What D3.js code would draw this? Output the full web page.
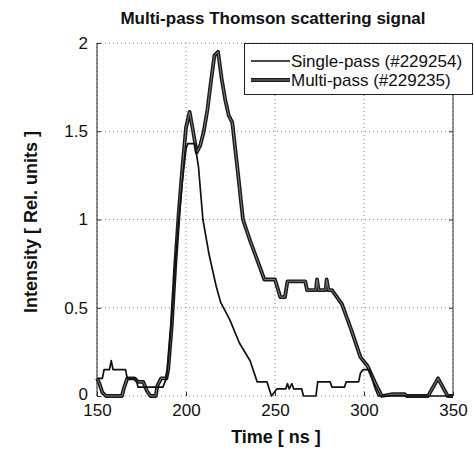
<html lang="en">
<head>
  <meta charset="utf-8">
  <title>Multi-pass Thomson scattering signal</title>
  <script src="https://d3js.org/d3.v7.min.js"></script>
  <style>
    body { margin: 0; background: #fff; }
    text { font-family: "Liberation Sans", Arial, sans-serif; fill: #111; }
    .grid { stroke: #888; stroke-width: 1; stroke-dasharray: 1,3; }
  </style>
</head>
<body>
<svg id="chart"></svg>
<script>
var singleT = [150, 153, 154, 157, 158, 159, 166, 167, 172, 173, 187, 189, 190, 192, 194, 196, 198, 200, 201, 205,
               207, 209.5, 213, 217, 219.5, 224.7, 230, 236, 240, 245.5, 248, 251, 256, 257, 258, 259.5, 260.5, 265,
               266, 273, 274, 281, 282, 289, 290, 297, 298, 299.5, 303, 306, 308, 350];
var singleV = [0.1, 0.1, 0.15, 0.15, 0.2, 0.15, 0.15, 0.1, 0.1, 0.05, 0.05, 0.1, 0.2, 0.45, 0.75, 1.0, 1.22, 1.4, 1.43, 1.43,
               1.3, 1.0, 0.8, 0.62, 0.53, 0.43, 0.3, 0.2, 0.08, 0.08, 0, 0.04, 0.04, 0.07, 0.04, 0.07, 0.04, 0.04,
               0, 0, 0.08, 0.08, 0.05, 0.05, 0.08, 0.08, 0.13, 0.15, 0.15, 0.05, 0, 0];

var multiT = [150, 151, 153, 155, 164, 165, 167, 171, 173, 176, 178, 180, 183, 184, 186, 189, 190, 192, 194, 196,
              198, 200, 202, 204, 206, 208, 210, 212, 214, 216, 218, 220, 222, 224, 226, 229, 232, 236, 241.5, 244,
              250, 253, 255.6, 257, 267, 268, 273, 273.6, 274.5, 278.5, 279, 280, 282, 287.6, 293, 298, 302, 306,
              310, 316, 323, 324, 336, 341.6, 347, 350];
var multiV = [0.1, 0.08, 0.02, 0, 0, 0.04, 0.1, 0.1, 0.08, 0.08, 0.03, 0, 0, 0.06, 0.1, 0.1, 0.15, 0.4, 0.75, 1.05,
              1.3, 1.52, 1.61, 1.5, 1.38, 1.42, 1.5, 1.62, 1.78, 1.93, 1.95, 1.8, 1.68, 1.59, 1.55, 1.28, 1.0, 0.88, 0.73, 0.66,
              0.66, 0.56, 0.56, 0.65, 0.65, 0.6, 0.6, 0.66, 0.6, 0.6, 0.66, 0.6, 0.6, 0.52, 0.37, 0.22, 0.17, 0.08,
              0, 0.01, 0.01, 0, 0, 0.1, 0, 0];

var xTicks = [150, 200, 250, 300, 350];
var yTicks = [0, 0.5, 1, 1.5, 2];
var legendLabels = ["Single-pass (#229254)", "Multi-pass (#229235)"];

var config = { w: 474, h: 450, left: 97, right: 453, top: 43, bottom: 396 };

var svg = d3.select("#chart").attr("width", config.w).attr("height", config.h);

var x = d3.scaleLinear().domain([150, 350]).range([config.left, config.right]);
var y = d3.scaleLinear().domain([0, 2]).range([config.bottom, config.top]);

// dotted grid
svg.selectAll("line.gx").data(xTicks).enter().append("line")
  .attr("class", "grid")
  .attr("x1", function(d) { return x(d); }).attr("x2", function(d) { return x(d); })
  .attr("y1", config.top).attr("y2", config.bottom);
svg.selectAll("line.gy").data(yTicks).enter().append("line")
  .attr("class", "grid")
  .attr("x1", config.left).attr("x2", config.right)
  .attr("y1", function(d) { return y(d); }).attr("y2", function(d) { return y(d); });

// left and right solid edges
svg.append("line").attr("x1", config.left).attr("x2", config.left)
  .attr("y1", config.top).attr("y2", config.bottom).attr("stroke", "#222");
svg.append("line").attr("x1", config.right).attr("x2", config.right)
  .attr("y1", config.top).attr("y2", config.bottom).attr("stroke", "#333");

// axes: inward ticks, labels only
var xAxis = d3.axisBottom(x).tickValues(xTicks).tickSize(-4).tickPadding(8);
var yAxis = d3.axisLeft(y).tickValues(yTicks).tickSize(-4).tickPadding(9)
  .tickFormat(function(d) { return d; });

var gx = svg.append("g").attr("transform", "translate(0," + config.bottom + ")").call(xAxis);
var gy = svg.append("g").attr("transform", "translate(" + config.left + ",0)").call(yAxis);
var gyr = svg.append("g").attr("transform", "translate(" + config.right + ",0)")
  .call(d3.axisRight(y).tickValues(yTicks).tickSize(-4).tickFormat(""));
[gx, gy, gyr].forEach(function(g) {
  g.select(".domain").remove();
  g.selectAll(".tick line").attr("stroke", "#333");
  g.selectAll("text").style("font-size", "17px").style("fill", "#111")
    .style("font-family", "'Liberation Sans', Arial, sans-serif");
});
// keep the "0" clear of the "150" under it
gy.selectAll(".tick").filter(function(d) { return d === 0; }).select("text").attr("dy", "0.2em");

var line = d3.line()
  .x(function(d) { return x(d[0]); })
  .y(function(d) { return y(d[1]); });

var single = d3.zip(singleT, singleV);
var multi = d3.zip(multiT, multiV);

// thick multi-pass trace: dark outline with grey core like the scan
svg.append("path").attr("d", line(multi))
  .attr("fill", "none").attr("stroke", "#1a1a1a").attr("stroke-width", 3.8)
  .attr("stroke-linejoin", "round");
svg.append("path").attr("d", line(multi))
  .attr("fill", "none").attr("stroke", "#7a7a7a").attr("stroke-width", 1)
  .attr("stroke-linejoin", "round");

svg.append("path").attr("d", line(single))
  .attr("fill", "none").attr("stroke", "#111").attr("stroke-width", 1.7)
  .attr("stroke-linejoin", "round");

// legend
var lg = svg.append("g");
lg.append("rect").attr("x", 244.5).attr("y", 43.5).attr("width", 228).attr("height", 51)
  .attr("fill", "#fff").attr("stroke", "#222");
legendLabels.forEach(function(label, i) {
  var ly = 61 + i * 19;
  if (i === 0) {
    lg.append("line").attr("x1", 251).attr("x2", 290).attr("y1", ly).attr("y2", ly)
      .attr("stroke", "#111").attr("stroke-width", 1.7);
  } else {
    lg.append("line").attr("x1", 251).attr("x2", 290).attr("y1", ly).attr("y2", ly)
      .attr("stroke", "#1a1a1a").attr("stroke-width", 3.8);
    lg.append("line").attr("x1", 251).attr("x2", 290).attr("y1", ly).attr("y2", ly)
      .attr("stroke", "#7a7a7a").attr("stroke-width", 1);
  }
  lg.append("text").attr("x", 291).attr("y", ly + 6).style("font-size", "17px").text(label);
});

// titles
svg.append("text").attr("x", 273).attr("y", 24).attr("text-anchor", "middle")
  .style("font-size", "17px").style("font-weight", "bold")
  .text("Multi-pass Thomson scattering signal");
svg.append("text").attr("x", 276).attr("y", 443).attr("text-anchor", "middle")
  .style("font-size", "18px").style("font-weight", "bold")
  .text("Time [ ns ]");
svg.append("text").attr("transform", "translate(37,222) rotate(-90)").attr("text-anchor", "middle")
  .style("font-size", "18px").style("font-weight", "bold")
  .text("Intensity [ Rel. units ]");
</script>
</body>
</html>
